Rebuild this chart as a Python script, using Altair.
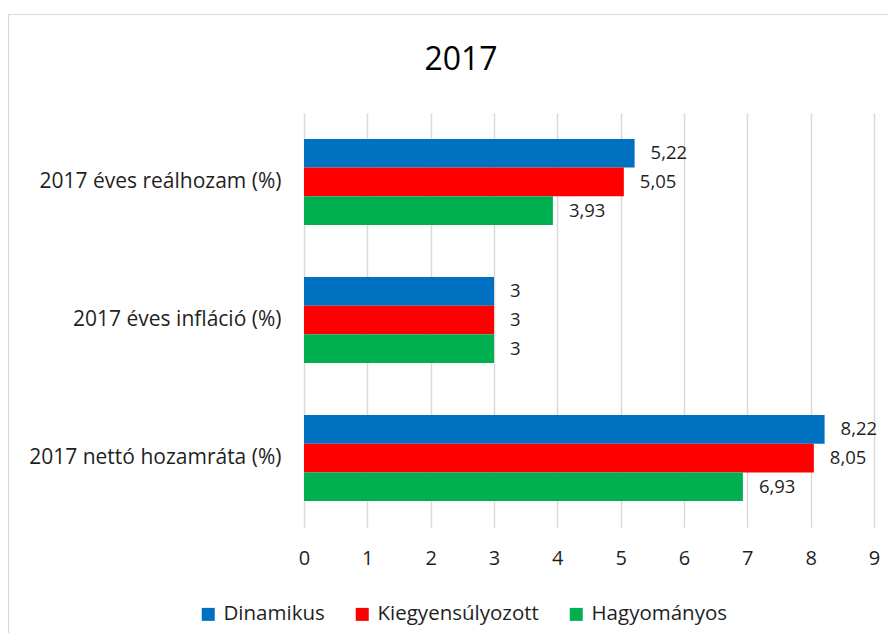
import altair as alt
import pandas as pd

categories = ["2017 éves reálhozam (%)", "2017 éves infláció (%)", "2017 nettó hozamráta (%)"]
series = ["Dinamikus", "Kiegyensúlyozott", "Hagyományos"]
colors = ["#0070C0", "#FF0000", "#00B050"]
dinamikus = [5.22, 3, 8.22]
kiegyensulyozott = [5.05, 3, 8.05]
hagyomanyos = [3.93, 3, 6.93]
x_ticks = [0, 1, 2, 3, 4, 5, 6, 7, 8, 9]

rows = []
for s, vals in zip(series, [dinamikus, kiegyensulyozott, hagyomanyos]):
    for c, v in zip(categories, vals):
        rows.append({"category": c, "series": s, "value": v})
df = pd.DataFrame(rows)

FONT = "Open Sans"
TXT = "#1f1f1f"

base = alt.Chart(df).encode(
    y=alt.Y("category:N", sort=categories, title=None,
            scale=alt.Scale(paddingInner=0.377, paddingOuter=0.188),
            axis=alt.Axis(domain=False, ticks=False, labelPadding=23,
                          labelFontSize=21, labelFont=FONT, labelColor=TXT,
                          labelLimit=400)),
    yOffset=alt.YOffset("series:N", sort=series,
                        scale=alt.Scale(paddingInner=0, paddingOuter=0)),
)

bars = base.mark_bar().encode(
    x=alt.X("value:Q", title=None,
            scale=alt.Scale(domain=[0, 9], nice=False),
            axis=alt.Axis(values=x_ticks, domain=False, ticks=False, tickSize=0,
                          labelFlush=False,
                          labelPadding=21, labelFontSize=20, labelFont=FONT,
                          labelColor=TXT, grid=True, gridColor="#D9D9D9",
                          gridWidth=1.5, format="d")),
    color=alt.Color("series:N", sort=series, title=None,
                    scale=alt.Scale(domain=series, range=colors),
                    legend=alt.Legend(orient="none", legendX=-106, legendY=491,
                                      direction="horizontal", symbolType="square",
                                      symbolSize=169, symbolStrokeWidth=0,
                                      labelFontSize=20.5, labelFont=FONT,
                                      labelColor=TXT, labelOffset=5,
                                      columnPadding=27, padding=0,
                                      labelLimit=400)),
)

labels = base.mark_text(align="left", baseline="middle", dx=16,
                        fontSize=18.5, font=FONT, color=TXT).transform_calculate(
    label="replace(toString(datum.value), '.', ',')"
).encode(
    x=alt.X("value:Q"),
    text=alt.Text("label:N"),
)

frame = alt.Chart(pd.DataFrame({"k": [0]})).mark_rect(
    fill=None, stroke="#D9D9D9", strokeWidth=1.2
).encode(
    x=alt.value(-295.5), x2=alt.value(700), y=alt.value(-98.5), y2=alt.value(700)
)

chart = alt.layer(frame, bars, labels).properties(
    width=570,
    height=414,
    title=alt.TitleParams("2017", fontSize=32, font=FONT, color="#000000",
                          fontWeight="normal", anchor="middle", dx=-128, offset=-63),
    padding={"left": 296, "top": 105, "right": 14, "bottom": 106},
    autosize=alt.AutoSizeParams(type="none"),
).configure_view(stroke=None)

chart.save("out.html", embed_options={"renderer": "svg", "actions": False})
